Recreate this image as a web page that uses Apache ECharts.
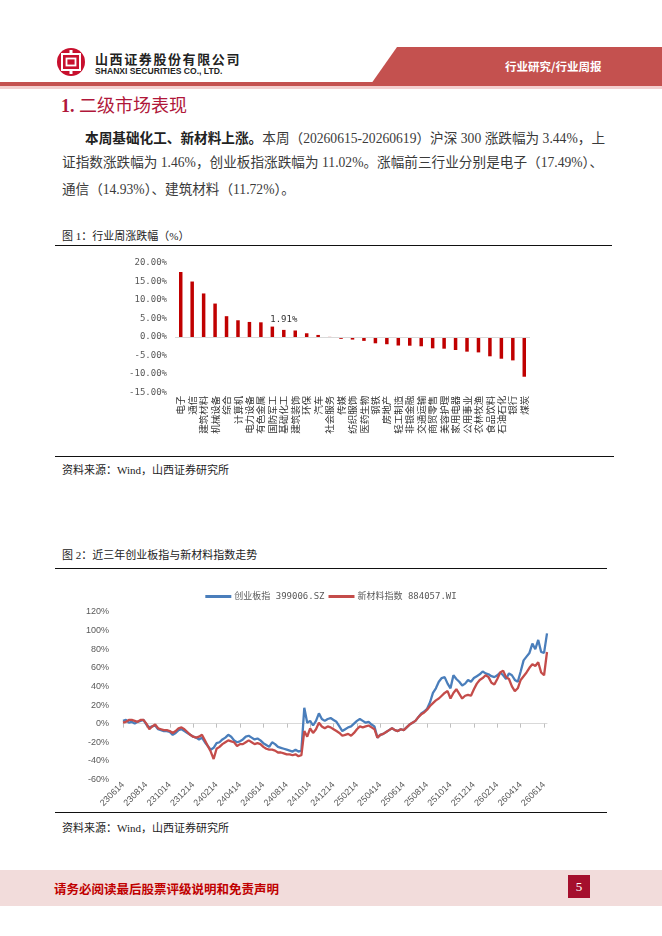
<!DOCTYPE html>
<html>
<head>
<meta charset="utf-8">
<script src="https://cdn.jsdelivr.net/npm/echarts@6/dist/echarts.min.js"></script>
<style>
  html, body { margin: 0; padding: 0; background: #fff; }
  body { width: 662px; height: 936px; position: relative; overflow: hidden;
         font-family: "Liberation Serif", "Noto Sans CJK SC", serif; color: #333; }
  .abs { position: absolute; white-space: nowrap; }
  .rule { position: absolute; height: 1px; background: #111; }
  .para { position: absolute; font-size: 13.6px; line-height: 18px; color: #3a3a3a;
          text-align: justify; text-align-last: justify; white-space: nowrap; }
  .cap { position: absolute; font-size: 11px; color: #222; white-space: nowrap; }
  #bars { position: absolute; left: 0; top: 250px; width: 662px; height: 205px; }
  #trend { position: absolute; left: 0; top: 575px; width: 662px; height: 235px; }
</style>
</head>
<body>
<!-- header -->
<svg class="abs" style="left:56px;top:47px" width="30" height="30" viewBox="0 0 30 30">
  <circle cx="15" cy="15" r="14" fill="#c8102e"/>
  <rect x="6" y="7" width="18" height="16" fill="none" stroke="#fff" stroke-width="2"/>
  <rect x="10.5" y="11.5" width="9" height="7" fill="none" stroke="#fff" stroke-width="1.8"/>
  <rect x="13.5" y="3" width="3" height="5" fill="#fff"/>
  <rect x="13.5" y="22" width="3" height="5" fill="#fff"/>
</svg>
<div class="abs" style="left:95px;top:49px;font-family:'Noto Sans CJK SC';font-weight:700;font-size:13px;letter-spacing:1.6px;color:#222">山西证券股份有限公司</div>
<div class="abs" style="left:95px;top:66px;font-family:'Liberation Sans';font-weight:700;font-size:8.6px;color:#222">SHANXI SECURITIES CO., LTD.</div>
<div class="abs" style="left:371px;top:47px;width:291px;height:37px;background:#c4514f;clip-path:polygon(26px 0,100% 0,100% 100%,0 100%)"></div>
<div class="abs" style="left:505px;top:58px;font-family:'Noto Sans CJK SC';font-weight:700;font-size:11.5px;color:#fff">行业研究/行业周报</div>
<div class="abs" style="left:0;top:82px;width:662px;height:4px;background:#c4514f"></div>
<div class="abs" style="left:0;top:86px;width:662px;height:3px;background:#f3cfcf"></div>

<div class="abs" style="left:61px;top:91px;font-size:18px;color:#b0173a;font-family:'Liberation Serif','Noto Sans CJK SC'"><b>1.</b> 二级市场表现</div>

<div class="para" style="left:85px;top:128px;width:520px"><b style="font-family:'Noto Sans CJK SC';color:#222">本周基础化工、新材料上涨。</b>本周（20260615-20260619）沪深 300 涨跌幅为 3.44%，上</div>
<div class="para" style="left:62px;top:154px;width:541px">证指数涨跌幅为 1.46%，创业板指涨跌幅为 11.02%。涨幅前三行业分别是电子（17.49%）、</div>
<div class="para" style="left:62px;top:181px;text-align:left;text-align-last:left">通信（14.93%）、建筑材料（11.72%）。</div>

<div class="cap" style="left:62px;top:227px">图 1：行业周涨跌幅（%）</div>
<div class="rule" style="left:55px;top:245px;width:557px"></div>
<div id="bars"></div>
<div class="rule" style="left:55px;top:456px;width:559px"></div>
<div class="cap" style="left:62px;top:461px">资料来源：Wind，山西证券研究所</div>

<div class="cap" style="left:62px;top:546px">图 2：近三年创业板指与新材料指数走势</div>
<div class="rule" style="left:55px;top:568px;width:552px"></div>
<div id="trend"></div>
<div class="rule" style="left:55px;top:812px;width:552px"></div>
<div class="cap" style="left:62px;top:819px">资料来源：Wind，山西证券研究所</div>

<!-- footer -->
<div class="abs" style="left:0;top:870px;width:662px;height:36px;background:#f2dcdb"></div>
<div class="abs" style="left:54px;top:879px;font-family:'Noto Sans CJK SC';font-weight:700;font-size:12.5px;color:#c00000">请务必阅读最后股票评级说明和免责声明</div>
<div class="abs" style="left:568px;top:875px;width:22px;height:23px;background:#a50f2d;color:#fff;font-size:13px;text-align:center;line-height:23px">5</div>

<script>
  const industryNames = [
    "电子", "通信", "建筑材料", "机械设备", "综合", "计算机", "电力设备", "有色金属",
    "国防军工", "基础化工", "建筑装饰", "环保", "汽车", "社会服务", "传媒", "纺织服饰",
    "医药生物", "钢铁", "房地产", "轻工制造", "非银金融", "交通运输", "商贸零售", "美容护理",
    "家用电器", "公用事业", "农林牧渔", "食品饮料", "石油石化", "银行", "煤炭",
  ];
  const weeklyChange = [
    17.49, 14.93, 11.72, 9.0, 5.6, 4.5, 4.05, 3.95,
    2.8, 1.91, 1.75, 1.0, 0.55, 0.03, -0.5, -0.7,
    -1.05, -1.7, -1.95, -2.3, -2.35, -2.5, -3.05, -3.15,
    -3.5, -3.95, -4.15, -5.2, -5.85, -6.3, -10.7,
  ];
  const labelledIndustry = "基础化工";

  const tradeDates = [
    "230614", "230621", "230628", "230707", "230714", "230721", "230728", "230807",
    "230814", "230821", "230828", "230907", "230914", "230921", "230928", "231007",
    "231014", "231021", "231028", "231107", "231114", "231121", "231128", "231207",
    "231214", "231221", "231228", "240107", "240114", "240121", "240128", "240207",
    "240214", "240221", "240228", "240307", "240314", "240321", "240328", "240407",
    "240414", "240421", "240428", "240507", "240514", "240521", "240528", "240607",
    "240614", "240621", "240628", "240707", "240714", "240721", "240728", "240807",
    "240814", "240821", "240828", "240907", "240914", "240921", "240928", "241007",
    "241014", "241021", "241028", "241107", "241114", "241121", "241128", "241207",
    "241214", "241221", "241228", "250107", "250114", "250121", "250128", "250207",
    "250214", "250221", "250228", "250307", "250314", "250321", "250328", "250407",
    "250414", "250421", "250428", "250507", "250514", "250521", "250528", "250607",
    "250614", "250621", "250628", "250707", "250714", "250721", "250728", "250807",
    "250814", "250821", "250828", "250907", "250914", "250921", "250928", "251007",
    "251014", "251021", "251028", "251107", "251114", "251121", "251128", "251207",
    "251214", "251221", "251228", "260107", "260114", "260121", "260128", "260207",
    "260214", "260221", "260228", "260307", "260314", "260321", "260328", "260407",
    "260414", "260421", "260428", "260507", "260514", "260521", "260528", "260607",
    "260614", "260619",
  ];
  // 创业板指 399006.SZ 累计涨跌幅（%）
  const chinextReturn = [
    3, 4, 1, 2, 0, 2, 3, 4,
    -1, -4, -3, -2, -6, -7, -8, -8,
    -9, -12, -10, -7, -6, -8, -10, -12,
    -14, -15, -17, -15, -20, -24, -28, -26,
    -21, -20, -17, -15, -12, -14, -18, -20,
    -19, -17, -14, -13, -15, -17, -16, -18,
    -21, -23, -25, -20, -22, -25, -26, -27,
    -28, -29, -30, -28, -30, -29, 17, 1,
    3, -2, 3, 11, 5, 3, 5, 6,
    4, 2, -3, -8, -6, -4, -3, 0,
    3, 5, 3, 1, 2, -1, -3, -15,
    -12, -11, -9, -7, -5, -7, -8, -6,
    -7, -4, -1, 1, 3, 7, 11, 13,
    16, 23, 33, 38, 45, 49, 50, 43,
    38, 52, 48, 45, 41, 43, 47, 45,
    49, 51, 53, 56, 54, 53, 51, 50,
    52, 55, 52, 48, 54, 52, 47, 45,
    56, 68, 72, 76, 86, 80, 90, 77,
    76, 97,
  ];
  // 新材料指数 884057.WI 累计涨跌幅（%）
  const newMaterialReturn = [
    1, 2, 4, 4, 3, 2, 4, 4,
    0, -6, -3, -1, -5, -6, -7, -7,
    -8, -10, -8, -5, -4, -6, -9, -12,
    -14, -15, -14, -12, -18, -24, -30, -38,
    -27, -25, -22, -20, -18, -19, -20, -24,
    -22, -22, -20, -18, -20, -22, -21, -22,
    -25, -27, -28, -28, -29, -31, -31, -32,
    -33, -33, -34, -33, -35, -34, -8, -14,
    -5, -10, -6, 1, -3, -5, -3, -4,
    -6, -8, -10, -13, -12, -11, -13, -10,
    -6, -3, -4, -3, -2, -4, -6, -15,
    -12, -11, -9, -7, -5, -7, -8, -6,
    -7, -4, -1, 1, 3, 7, 10, 12,
    15, 19, 22, 25, 27, 30, 33, 35,
    27, 33, 37, 32, 27, 30, 31, 30,
    37, 43, 47, 49, 52, 50, 44, 42,
    48, 55, 57, 50, 48, 40, 35, 38,
    47, 51, 55, 60, 64, 62, 66, 55,
    52, 77,
  ];
  const trendSeriesNames = ["创业板指 399006.SZ", "新材料指数 884057.WI"];

  const AXIS_TEXT = "#595959";
  const MONO = "'DejaVu Sans Mono', 'Noto Sans CJK SC', monospace";

  function renderChart(elId, option) {
    const el = document.getElementById(elId);
    if (!el || typeof window.echarts === "undefined") return;
    const chart = window.echarts.init(el);
    chart.setOption(option, true);
  }

  renderChart("bars", {
    animation: false,
    grid: { left: 175, right: 132, top: 12.7, bottom: 62.3 },
    xAxis: {
      type: "category",
      data: industryNames,
      axisLine: { show: false },
      axisTick: { show: false },
      axisLabel: {
        interval: 0,
        rotate: 90,
        margin: 3,
        fontSize: 9.5,
        color: "#333",
        fontFamily: "Noto Sans CJK SC",
      },
    },
    yAxis: {
      type: "value",
      min: -15,
      max: 20,
      interval: 5,
      splitLine: { show: false },
      axisLine: { show: false },
      axisTick: { show: false },
      axisLabel: {
        margin: 8,
        fontSize: 9,
        color: AXIS_TEXT,
        fontFamily: MONO,
        formatter: (v) => v.toFixed(2) + "%",
      },
    },
    series: [{
      type: "bar",
      barWidth: 3.5,
      itemStyle: { color: "#c00000" },
      data: weeklyChange.map((v, i) => ({
        value: v,
        label: industryNames[i] === labelledIndustry
          ? { show: true, position: "top", distance: 6, fontSize: 9, color: "#333", fontFamily: MONO, formatter: (p) => p.value.toFixed(2) + "%" }
          : { show: false },
      })),
      markLine: {
        silent: true,
        symbol: ["none", "none"],
        label: { show: false },
        lineStyle: { color: "#d9d9d9", width: 1, type: "solid" },
        data: [{ yAxis: 0 }],
      },
    }],
  });

  const everyTwoMonths = (idx) => idx % 8 === 0;

  renderChart("trend", {
    animation: false,
    color: ["#4a7ebb", "#c44c4a"],
    legend: {
      top: 12,
      left: "center",
      itemWidth: 26,
      itemHeight: 3,
      itemGap: 4,
      icon: "rect",
      textStyle: { fontSize: 9, color: AXIS_TEXT, fontFamily: MONO, padding: [0, 0, 0, -2] },
      data: trendSeriesNames,
    },
    grid: { left: 123, right: 115, top: 37, bottom: 18 },
    xAxis: {
      type: "category",
      boundaryGap: false,
      data: tradeDates,
      axisLine: { onZero: true, lineStyle: { color: "#d9d9d9" } },
      axisTick: { interval: everyTwoMonths, length: 4, lineStyle: { color: "#bfbfbf" } },
      axisLabel: {
        interval: everyTwoMonths,
        rotate: 45,
        margin: 4,
        fontSize: 9,
        color: AXIS_TEXT,
        fontFamily: "Liberation Sans",
      },
    },
    yAxis: {
      type: "value",
      min: -60,
      max: 120,
      interval: 20,
      splitLine: { show: false },
      axisLine: { show: false },
      axisTick: { show: false },
      axisLabel: {
        margin: 14,
        fontSize: 9,
        color: AXIS_TEXT,
        fontFamily: "Liberation Sans",
        formatter: (v) => v + "%",
      },
    },
    series: [
      { name: trendSeriesNames[0], type: "line", data: chinextReturn, showSymbol: false, lineStyle: { width: 2.3 } },
      { name: trendSeriesNames[1], type: "line", data: newMaterialReturn, showSymbol: false, lineStyle: { width: 2.3 } },
    ],
  });
</script>
</body>
</html>
